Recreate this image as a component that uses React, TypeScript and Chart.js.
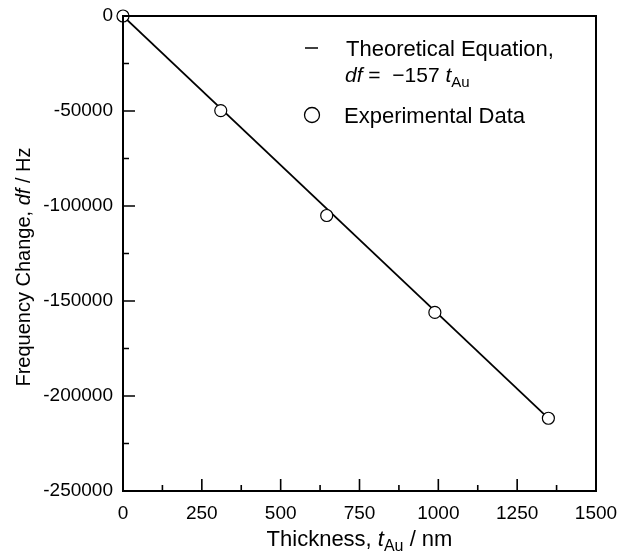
import React, { useEffect, useRef } from "react";
import { Chart, registerables } from "chart.js";

Chart.register(...registerables);

// Data
const expThickness = [0, 310, 646, 989, 1349];
const expFreq = [0, -49800, -105000, -156000, -211700];
const theoryThickness = [0, 1350];
const theoryFreq = [0, -211950];

const xTicks = [0, 250, 500, 750, 1000, 1250, 1500];
const yTicks = [0, -50000, -100000, -150000, -200000, -250000];
const xMinorStep = 125;
const yMinorStep = 25000;

const FONT = '"Liberation Sans", Arial, Helvetica, sans-serif';

type Seg = { t: string; italic?: boolean; sub?: boolean };

function drawRich(ctx: CanvasRenderingContext2D, segs: Seg[], x: number, y: number, size: number, align: "left" | "center") {
  const subSize = Math.round(size * 0.72);
  const fontFor = (s: Seg) => `${s.italic ? "italic " : ""}${s.sub ? subSize : size}px ${FONT}`;
  let total = 0;
  for (const s of segs) {
    ctx.font = fontFor(s);
    total += ctx.measureText(s.t).width;
  }
  let cx = align === "center" ? x - total / 2 : x;
  ctx.textAlign = "left";
  ctx.textBaseline = "alphabetic";
  for (const s of segs) {
    ctx.font = fontFor(s);
    ctx.fillText(s.t, cx, s.sub ? y + size * 0.22 : y);
    cx += ctx.measureText(s.t).width;
  }
}

const decorPlugin = {
  id: "decor",
  afterDraw(chart: any) {
    const ctx: CanvasRenderingContext2D = chart.ctx;
    const { left, right, top, bottom } = chart.chartArea;
    const xs = chart.scales.x;
    const ys = chart.scales.y;
    ctx.save();
    ctx.strokeStyle = "#000";
    ctx.fillStyle = "#000";
    ctx.lineWidth = 2;
    ctx.strokeRect(left, top, right - left, bottom - top);

    // inward ticks
    ctx.lineWidth = 1.6;
    ctx.beginPath();
    for (let v = xs.min; v <= xs.max + 1e-6; v += xMinorStep) {
      const px = xs.getPixelForValue(v);
      const major = Math.abs(v % 250) < 1e-6;
      const len = major ? 12 : 6;
      ctx.moveTo(px, bottom);
      ctx.lineTo(px, bottom - len);
    }
    for (let v = ys.min; v <= ys.max + 1e-6; v += yMinorStep) {
      const py = ys.getPixelForValue(v);
      const major = Math.abs(v % 50000) < 1e-6;
      const len = major ? 12 : 6;
      ctx.moveTo(left, py);
      ctx.lineTo(left + len, py);
    }
    ctx.stroke();

    // axis titles
    drawRich(
      ctx,
      [{ t: "Thickness, " }, { t: "t", italic: true }, { t: "Au", sub: true }, { t: " / nm" }],
      (left + right) / 2,
      546,
      22,
      "center"
    );
    ctx.save();
    ctx.translate(30, 267);
    ctx.rotate(-Math.PI / 2);
    drawRich(
      ctx,
      [{ t: "Frequency Change, " }, { t: "df", italic: true }, { t: " / Hz" }],
      0,
      0,
      20,
      "center"
    );
    ctx.restore();

    // legend
    ctx.lineWidth = 1.5;
    ctx.beginPath();
    ctx.moveTo(305, 48);
    ctx.lineTo(318, 48);
    ctx.stroke();
    drawRich(ctx, [{ t: "Theoretical Equation," }], 346, 56, 22, "left");
    drawRich(
      ctx,
      [{ t: "df", italic: true }, { t: " =  \u2212157 " }, { t: "t", italic: true }, { t: "Au", sub: true }],
      345,
      82,
      21,
      "left"
    );
    ctx.beginPath();
    ctx.arc(312, 115, 7.5, 0, Math.PI * 2);
    ctx.fillStyle = "#fff";
    ctx.fill();
    ctx.lineWidth = 1.3;
    ctx.stroke();
    ctx.fillStyle = "#000";
    drawRich(ctx, [{ t: "Experimental Data" }], 344, 123, 22, "left");
    ctx.restore();
  },
};

export default function App() {
  const ref = useRef<HTMLCanvasElement | null>(null);
  useEffect(() => {
    if (!ref.current) return;
    const chart = new Chart(ref.current, {
      type: "scatter",
      data: {
        datasets: [
          {
            label: "Experimental Data",
            data: expThickness.map((x, i) => ({ x, y: expFreq[i] })),
            showLine: false,
            pointRadius: 6,
            pointBackgroundColor: "#fff",
            pointBorderColor: "#000",
            pointBorderWidth: 1.2,
            clip: false as any,
          },
          {
            label: "Theoretical Equation",
            data: theoryThickness.map((x, i) => ({ x, y: theoryFreq[i] })),
            showLine: true,
            pointRadius: 0,
            borderColor: "#000",
            borderWidth: 1.8,
          },
        ],
      },
      options: {
        responsive: false,
        animation: false,
        layout: { padding: { left: 0, top: 16, right: 21, bottom: 0 } },
        plugins: { legend: { display: false }, tooltip: { enabled: false } },
        scales: {
          x: {
            type: "linear",
            min: 0,
            max: 1500,
            afterBuildTicks: (s: any) => {
              s.ticks = xTicks.map((v) => ({ value: v }));
            },
            afterFit: (s: any) => {
              s.height = 63;
              s.paddingLeft = 0;
              s.paddingRight = 0;
            },
            grid: { display: false, drawTicks: false },
            border: { display: false },
            ticks: {
              color: "#000",
              font: { family: FONT, size: 19 },
              padding: 11,
              maxRotation: 0,
              callback: (v: any) => String(v),
            },
          },
          y: {
            type: "linear",
            min: -250000,
            max: 0,
            afterBuildTicks: (s: any) => {
              s.ticks = yTicks.map((v) => ({ value: v }));
            },
            afterFit: (s: any) => {
              s.width = 123;
              s.paddingTop = 0;
              s.paddingBottom = 0;
            },
            grid: { display: false, drawTicks: false },
            border: { display: false },
            ticks: {
              color: "#000",
              font: { family: FONT, size: 19 },
              padding: 10,
              callback: (v: any) => String(v),
            },
          },
        },
      },
      plugins: [decorPlugin],
    });
    return () => chart.destroy();
  }, []);
  return (
    <div style={{ position: "absolute", left: 0, top: 0, width: 617, height: 554, background: "#fff" }}>
      <canvas ref={ref} width={617} height={554} style={{ width: 617, height: 554 }} />
    </div>
  );
}
